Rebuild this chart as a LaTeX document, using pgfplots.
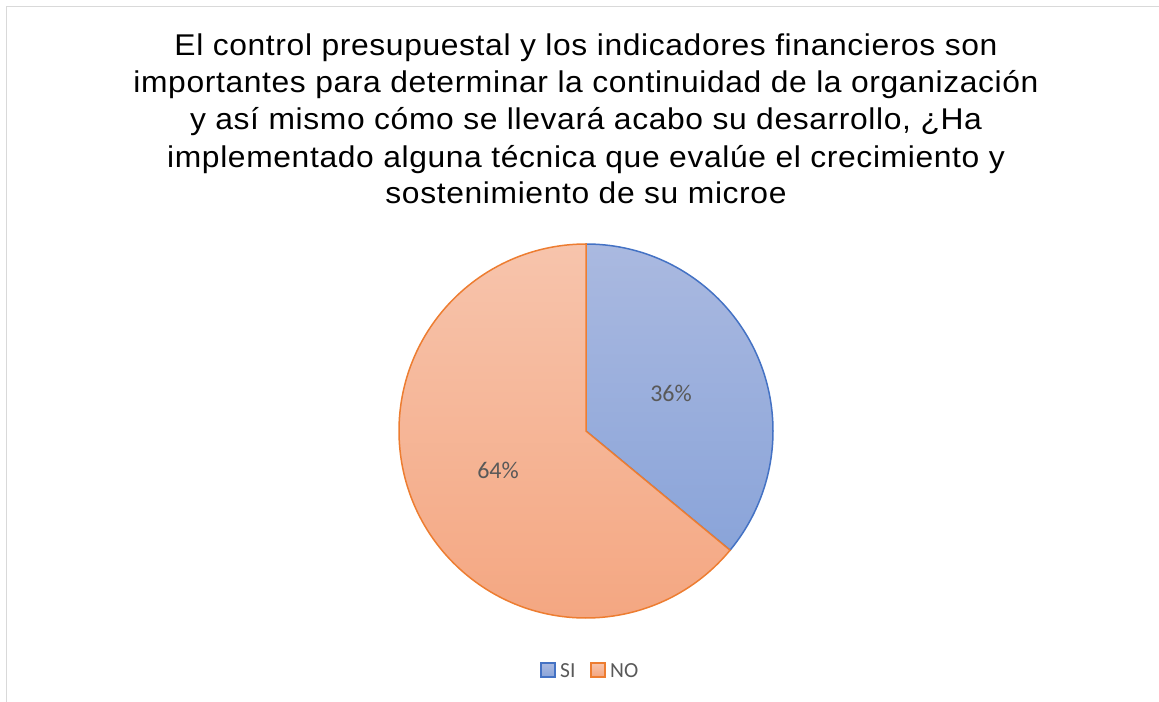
\documentclass[border=0pt]{standalone}
\usepackage{pgfplots}
\pgfplotsset{compat=1.18}
\usepackage{pgfplotstable}
\usepackage{fontspec}
\setmainfont{Liberation Sans}
\newfontfamily\titlefont[LetterSpace=2]{Liberation Sans}
\newfontfamily\calibri{Carlito}
\definecolor{siedge}{HTML}{4472C4}
\definecolor{sitop}{HTML}{AAB9E0}
\definecolor{sibot}{HTML}{8AA4D9}
\definecolor{noedge}{HTML}{ED7D31}
\definecolor{notop}{HTML}{F7C4AC}
\definecolor{nobot}{HTML}{F4A57F}
\definecolor{lbl}{HTML}{595959}
\definecolor{frame}{HTML}{D9D9D9}

\pgfplotstableread{
label value
SI 36
NO 64
}\piedata

\begin{document}
\begin{tikzpicture}
\pgfplotstablegetelem{0}{value}\of\piedata \let\vsi\pgfplotsretval
\pgfplotstablegetelem{1}{value}\of\piedata \let\vno\pgfplotsretval
\pgfmathsetmacro\tot{\vsi+\vno}
\pgfmathsetmacro\asi{90-360*\vsi/\tot}
\pgfmathtruncatemacro\pcsi{round(100*\vsi/\tot)}
\pgfmathtruncatemacro\pcno{round(100*\vno/\tot)}
\begin{axis}[
    width=1159bp, height=702bp, scale only axis,
    xmin=0, xmax=1159, ymin=0, ymax=702,
    y dir=reverse, hide axis, clip=false,
]
% chart frame
\draw[frame, line width=1.2bp] (axis cs:6.5,710) -- (axis cs:6.5,6.5) -- (axis cs:1165,6.5);
% title
\tikzset{ttl/.style={anchor=base, inner sep=0pt, xscale=1.06, font=\titlefont\fontsize{30bp}{37bp}\selectfont}}
\node[ttl] at (axis cs:586,56) {El control presupuestal y los indicadores financieros son};
\node[ttl] at (axis cs:586,93) {importantes para determinar la continuidad de la organización};
\node[ttl] at (axis cs:586,130) {y así mismo cómo se llevará acabo su desarrollo, ¿Ha};
\node[ttl] at (axis cs:586,167) {implementado alguna técnica que evalúe el crecimiento y};
\node[ttl] at (axis cs:586,204) {sostenimiento de su microe};
% slices
\path[draw=siedge, line width=1.5bp, top color=sitop, bottom color=sibot]
  (axis cs:586,431) -- ++(90:187bp) arc[start angle=90, end angle=\asi, radius=187bp] -- cycle;
\path[draw=noedge, line width=1.5bp, top color=notop, bottom color=nobot]
  (axis cs:586,431) -- ++(\asi:187bp) arc[start angle=\asi, end angle=-270, radius=187bp] -- cycle;
% data labels
\node[text=lbl, font=\calibri\fontsize{24bp}{26bp}\selectfont] at (axis cs:671,393) {\pcsi\%};
\node[text=lbl, font=\calibri\fontsize{24bp}{26bp}\selectfont] at (axis cs:498,470) {\pcno\%};
% legend
\path[draw=siedge, line width=1.2bp, top color=sitop, bottom color=sibot] (axis cs:541,663) rectangle (axis cs:555,677);
\node[anchor=base west, inner sep=0pt, text=lbl, font=\calibri\fontsize{21.5bp}{24bp}\selectfont] at (axis cs:560,677) {SI};
\path[draw=noedge, line width=1.2bp, top color=notop, bottom color=nobot] (axis cs:591,663) rectangle (axis cs:605,677);
\node[anchor=base west, inner sep=0pt, text=lbl, font=\calibri\fontsize{21.5bp}{24bp}\selectfont] at (axis cs:610,677) {NO};
\end{axis}
\pgfresetboundingbox
\useasboundingbox (0,0) rectangle (1159bp,702bp);
\end{tikzpicture}
\end{document}
